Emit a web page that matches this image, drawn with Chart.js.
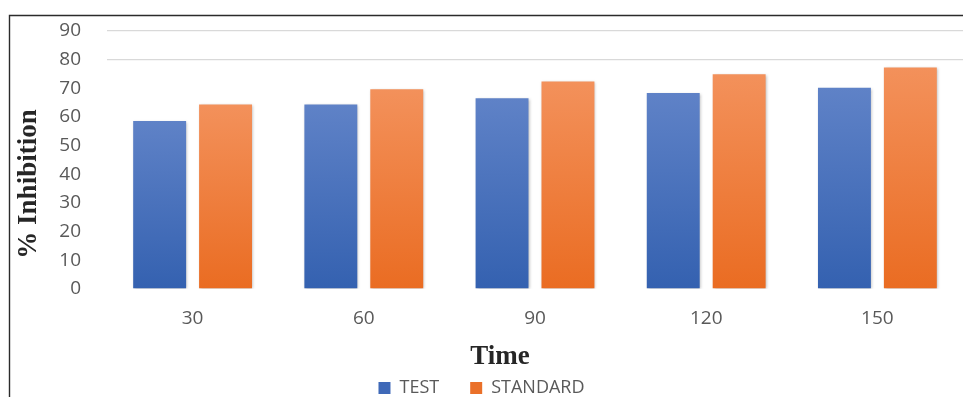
<!DOCTYPE html>
<html>
<head>
<meta charset="utf-8">
<script src="https://cdn.jsdelivr.net/npm/chart.js@4.4.1/dist/chart.umd.min.js"></script>
<style>
  html, body { margin: 0; padding: 0; background: #ffffff; }
  #wrap { position: relative; width: 963px; height: 397px; }
</style>
</head>
<body>
<div id="wrap"><canvas id="chart" width="963" height="397"></canvas></div>
<script>
// Inhibition over time for the test sample and the standard
const timeLabels = ['30', '60', '90', '120', '150'];
const testValues = [58.6, 64.4, 66.5, 68.4, 70.2];
const standardValues = [64.4, 69.7, 72.4, 74.9, 77.3];
const yTicks = [0, 10, 20, 30, 40, 50, 60, 70, 80, 90];

const xTitle = 'Time';
const yTitle = '% Inhibition';

function barGradient(top, bottom) {
  return (ctx) => {
    const chart = ctx.chart;
    const area = chart.chartArea;
    if (!area) return bottom;
    const scaleY = chart.scales.y;
    const v = ctx.raw;
    if (v === undefined || v === null) return bottom;
    const yTop = scaleY.getPixelForValue(v);
    const yBottom = scaleY.getPixelForValue(0);
    const g = chart.ctx.createLinearGradient(0, yTop, 0, yBottom);
    g.addColorStop(0, top);
    g.addColorStop(1, bottom);
    return g;
  };
}

// Outer frame, bar shadows and the two serif axis titles
const decor = {
  id: 'decor',
  beforeDraw(chart) {
    const c = chart.ctx;
    c.save();
    c.strokeStyle = '#2b2b2b';
    c.lineWidth = 1.4;
    c.beginPath();
    c.moveTo(9.5, 397);
    c.lineTo(9.5, 15.5);
    c.lineTo(963, 15.5);
    c.stroke();
    c.restore();
  },
  beforeDatasetsDraw(chart) {
    const c = chart.ctx;
    c.save();
    c.shadowColor = 'rgba(0,0,0,0.28)';
    c.shadowBlur = 3;
    c.shadowOffsetX = 1;
    c.shadowOffsetY = 1;
  },
  afterDatasetsDraw(chart) {
    chart.ctx.restore();
  },
  afterDraw(chart) {
    const c = chart.ctx;
    c.save();
    c.fillStyle = '#262626';
    c.font = 'bold 27px "Liberation Serif", "Times New Roman", serif';
    c.textAlign = 'center';
    c.textBaseline = 'middle';
    c.fillText(xTitle, 500, 357);
    c.translate(29, 184);
    c.rotate(-Math.PI / 2);
    c.fillText(yTitle, 0, 0);
    c.restore();
  }
};

new Chart(document.getElementById('chart'), {
  type: 'bar',
  data: {
    labels: timeLabels,
    datasets: [
      {
        label: 'TEST',
        data: testValues,
        backgroundColor: barGradient('#5f82c7', '#3461b0'),
        borderWidth: 0
      },
      {
        label: 'STANDARD',
        data: standardValues,
        backgroundColor: barGradient('#f3915b', '#ea6c22'),
        borderWidth: 0
      }
    ]
  },
  options: {
    responsive: false,
    animation: false,
    layout: { padding: { left: 0, right: 0, top: 31, bottom: -10 } },
    categoryPercentage: 0.77,
    barPercentage: 0.803,
    scales: {
      x: {
        grid: { display: false, drawTicks: false },
        border: { display: false },
        ticks: {
          padding: 18,
          color: '#595959',
          font: { family: '"Open Sans", sans-serif', size: 19 }
        },
        afterFit(scale) { scale.height = 59; }
      },
      y: {
        min: 0,
        max: 90,
        afterBuildTicks(scale) { scale.ticks = yTicks.map(v => ({ value: v })); },
        grid: {
          drawTicks: false,
          lineWidth: 1.3,
          color: (ctx) => (ctx.tick && ctx.tick.value >= 80 ? '#d9d9d9' : 'rgba(0,0,0,0)')
        },
        border: { display: false },
        ticks: {
          padding: 26,
          color: '#595959',
          font: { family: '"Open Sans", sans-serif', size: 19 }
        },
        afterFit(scale) {
          scale.width = 107;
          scale.paddingTop = 0;
          scale.paddingBottom = 0;
        }
      }
    },
    plugins: {
      legend: {
        position: 'bottom',
        labels: {
          boxWidth: 12,
          boxHeight: 12,
          padding: 31,
          color: '#595959',
          font: { family: '"Open Sans", sans-serif', size: 18 },
          generateLabels(chart) {
            const solid = ['#3f69b8', '#ea7029'];
            return chart.data.datasets.map((ds, i) => ({
              text: ds.label,
              fillStyle: solid[i],
              strokeStyle: solid[i],
              lineWidth: 0,
              fontColor: '#595959',
              datasetIndex: i,
              hidden: false
            }));
          }
        }
      },
      tooltip: { enabled: false }
    }
  },
  plugins: [decor]
});
</script>
</body>
</html>
